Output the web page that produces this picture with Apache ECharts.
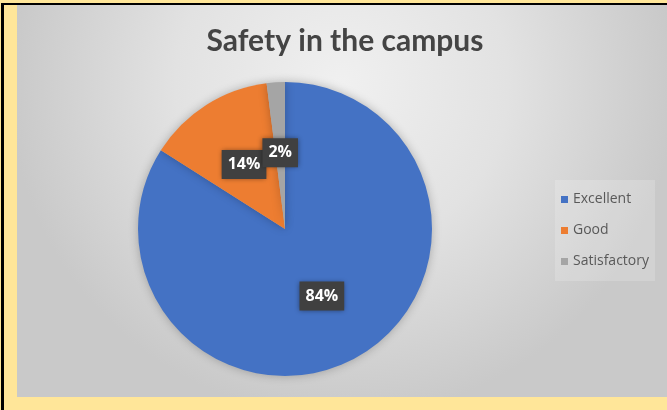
<!DOCTYPE html>
<html>
<head>
<meta charset="utf-8">
<script src="https://cdn.jsdelivr.net/npm/echarts@6/dist/echarts.min.js"></script>
<style>
  html, body { margin: 0; padding: 0; }
  body { width: 667px; height: 410px; background: #ffe699; position: relative; overflow: hidden; }
  .frame { position: absolute; left: 1px; top: 3px; width: 680px; height: 420px;
           border-left: 3px solid #000; border-top: 2px solid #000; }
  #chart { position: absolute; left: 17px; top: 5px; width: 650px; height: 392px; }
</style>
</head>
<body>
<div class="frame"></div>
<div id="chart"></div>
<script>
  // chart data
  var titleText = 'Safety in the campus';
  var categories = ['Excellent', 'Good', 'Satisfactory'];
  var values = [84, 14, 2];
  var colors = ['#4472c4', '#ed7d31', '#a5a5a5'];

  var pieData = categories.map(function (name, i) {
    return {name: name, value: values[i]};
  });

  var myChart = echarts.init(document.getElementById('chart'));
  myChart.setOption({
    backgroundColor: {
      type: 'radial', x: 0.5, y: 0.2, r: 0.85,
      colorStops: [
        {offset: 0, color: '#f0f0f0'},
        {offset: 0.5, color: '#e2e2e2'},
        {offset: 1, color: '#c9c9c9'}
      ]
    },
    color: colors,
    title: {
      text: titleText,
      left: 323,
      top: 16,
      textAlign: 'center',
      textStyle: {
        fontFamily: 'Lato',
        fontWeight: 'bold',
        fontSize: 30,
        color: '#444444'
      }
    },
    legend: {
      orient: 'vertical',
      left: 538,
      top: 175,
      padding: [10, 6, 10, 6],
      backgroundColor: 'rgba(255,255,255,0.18)',
      itemWidth: 7,
      itemHeight: 7,
      itemGap: 12,
      icon: 'rect',
      data: categories,
      textStyle: {
        fontFamily: 'Open Sans',
        fontSize: 14,
        lineHeight: 19,
        color: '#595959'
      }
    },
    series: [
      {
        type: 'pie',
        center: [268, 224],
        radius: [0, 147],
        startAngle: 90,
        clockwise: true,
        animation: false,
        data: pieData,
        itemStyle: {
          shadowBlur: 10,
          shadowColor: 'rgba(0,0,0,0.25)'
        },
        emphasis: {scale: false},
        minShowLabelAngle: 0,
        labelLayout: {hideOverlap: false},
        label: {
          position: 'inside',
          formatter: '{d}%',
          fontFamily: 'Open Sans',
          fontWeight: 'bold',
          fontSize: 16,
          color: '#fff',
          backgroundColor: '#404040',
          padding: [7, 6, 6, 6],
          shadowBlur: 5,
          shadowColor: 'rgba(0,0,0,0.45)'
        },
        labelLine: {show: false}
      }
    ]
  });
</script>
</body>
</html>
